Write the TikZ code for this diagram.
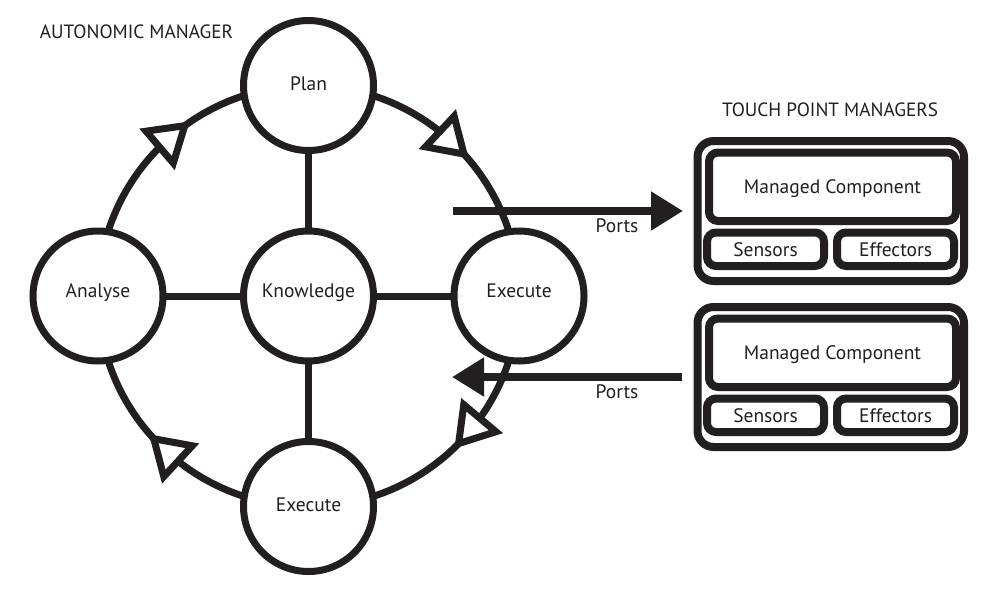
\documentclass[tikz,border=0pt]{standalone}
\usepackage{fontspec}
\setmainfont{PT Sans}
\usetikzlibrary{arrows.meta,calc}
\definecolor{ink}{HTML}{231F20}
\begin{document}
\begin{tikzpicture}[x=1pt,y=-1pt,
  stage/.style={circle, draw=ink, fill=white, line width=7pt, minimum size=130pt,
    inner sep=0pt, outer sep=0pt, text=ink, font=\fontsize{19.5}{22}\selectfont,
    text height=13.4pt, text depth=4pt},
  midrow/.style={text depth=11pt},
  ring/.style={draw=ink, line width=7pt},
  spoke/.style={draw=ink, line width=7pt},
  flowtip/.style={draw=ink, fill=white, line width=7pt, line join=miter},
  tpbox/.style={draw=ink, fill=white, line width=8pt, rounded corners=16pt,
    inner sep=0pt, outer sep=0pt},
  partbox/.style={draw=ink, fill=white, line width=8pt, rounded corners=9pt,
    inner sep=0pt, outer sep=0pt, text=ink, font=\fontsize{19.5}{22}\selectfont,
    text height=13.6pt, text depth=0pt},
  port/.style={draw=ink, line width=8pt, -{Triangle[length=32pt,width=37pt]}},
  lbl/.style={text=ink, font=\fontsize{19.5}{22}\selectfont, inner sep=0pt},
  hdr/.style={text=ink, font=\fontsize{19.2}{22}\selectfont, inner sep=0pt}]
\useasboundingbox (0,0) rectangle (1000,594);
\fill[white] (0,0) rectangle (1000,594);

% ring and flow arrowheads
\coordinate (ctr) at (308.5,296);
\draw[ring] (ctr) circle[radius=210.5pt];
\foreach \a in {35.5,128.3,225,308.6}{
  \coordinate (B) at ($(ctr)+(\a:210.5)$);
  \coordinate (T) at ($(ctr)+(\a+9:210.5)$);
  \draw[flowtip] ($(B)!21pt!90:(T)$) -- (T) -- ($(B)!21pt!-90:(T)$) -- cycle;
}

% stages
\node[stage] (plan) at (308.5,85.5) {Plan};
\node[stage,midrow] (analyse) at (98,296) {Analyse};
\node[stage,midrow] (know) at (308.5,296) {Knowledge};
\node[stage,midrow] (exec) at (519,296) {Execute};
\node[stage] (execb) at (308.5,506.5) {Execute};

\draw[spoke] (analyse) -- (know);
\draw[spoke] (know) -- (exec);
\draw[spoke] (plan) -- (know);
\draw[spoke] (know) -- (execb);

% touch point managers
\foreach \n/\dy in {a/0,b/166}{
  \node[tpbox, minimum width=266.5pt, minimum height=140pt] (tp\n) at (830.75,211+\dy) {};
  \node[partbox, minimum width=247pt, minimum height=68.5pt] (mc\n) at (832.5,186.75+\dy) {Managed Component};
  \node[partbox, minimum width=117pt, minimum height=33.5pt] (sen\n) at (765.5,249.25+\dy) {Sensors};
  \node[partbox, minimum width=117pt, minimum height=33.5pt] (eff\n) at (895.5,249.25+\dy) {Effectors};
}

% ports
\coordinate (pa) at (453,211);
\coordinate (pb) at (452,377);
\draw[port, shorten >=14.5pt] (pa) -- (tpa.west);
\draw[port, shorten <=16pt] (tpb.west) -- (pb);
\node[lbl, anchor=base] (portsa) at (617,232) {Ports};
\node[lbl, anchor=base] (portsb) at (617,398) {Ports};

% headers
\node[hdr, anchor=base] (am) at (136.5,39) {AUTONOMIC MANAGER};
\node[hdr, anchor=base] (tpm) at (830,116) {TOUCH POINT MANAGERS};
\end{tikzpicture}
\end{document}
